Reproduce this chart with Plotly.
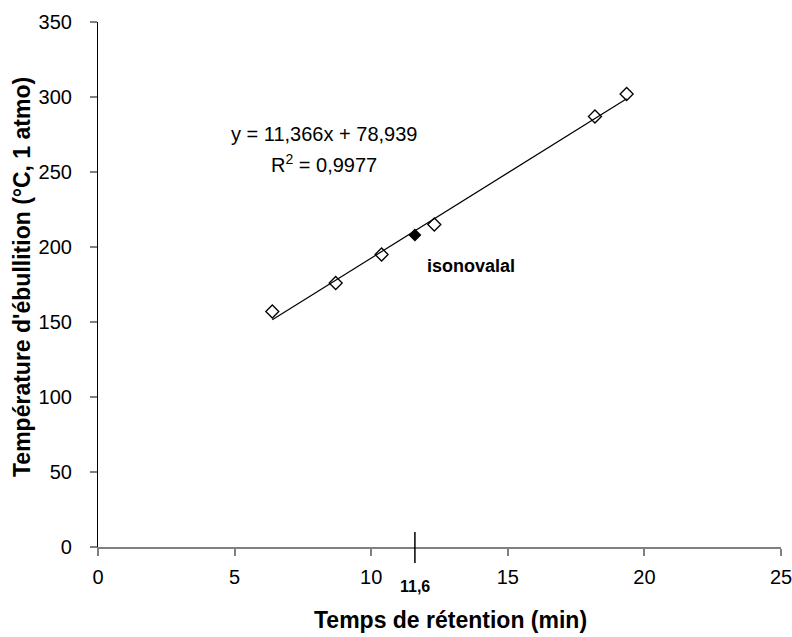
import plotly.graph_objects as go

# Data
ret_time = [6.38, 8.70, 10.38, 12.31, 18.19, 19.35]
boil_temp = [157, 176, 195, 215, 287, 302]
iso_time = [11.6]
iso_temp = [208]
slope = 11.366
intercept = 78.939
x_ticks = [0, 5, 10, 15, 20, 25]
y_ticks = [0, 50, 100, 150, 200, 250, 300, 350]

FONT = "Liberation Sans, Arial, sans-serif"

x_line = [min(ret_time), max(ret_time)]
y_line = [slope * v + intercept for v in x_line]

fig = go.Figure()
fig.add_trace(go.Scatter(x=x_line, y=y_line, mode="lines",
                         line=dict(color="black", width=1.2), showlegend=False, hoverinfo="skip"))
fig.add_trace(go.Scatter(x=ret_time, y=boil_temp, mode="markers",
                         marker=dict(symbol="diamond-open", size=10, color="black",
                                     line=dict(width=1.3, color="black")),
                         showlegend=False))
fig.add_trace(go.Scatter(x=iso_time, y=iso_temp, mode="markers",
                         marker=dict(symbol="diamond", size=10, color="black"),
                         showlegend=False))

# marker line at 11,6 crossing the x axis
fig.add_shape(type="line", xref="x", yref="paper", x0=11.6, x1=11.6, y0=-0.0305, y1=0.0286,
              line=dict(color="black", width=1.5))

fig.add_annotation(x=11.6, y=-0.076, xref="x", yref="paper", text="<b>11,6</b>",
                   xanchor="center", yanchor="middle",
                   showarrow=False, font=dict(family=FONT, size=16, color="black"))
fig.add_annotation(x=8.27, y=275.5, xref="x", yref="y", text="y = 11,366x + 78,939",
                   xanchor="center", yanchor="middle",
                   showarrow=False, font=dict(family=FONT, size=20, color="black"))
fig.add_annotation(x=8.27, y=256, xref="x", yref="y", text="R<sup>2</sup> = 0,9977",
                   xanchor="center", yanchor="middle",
                   showarrow=False, font=dict(family=FONT, size=20, color="black"))
fig.add_annotation(x=13.65, y=187.5, xref="x", yref="y", text="<b>isonovalal</b>",
                   xanchor="center", yanchor="middle",
                   showarrow=False, font=dict(family=FONT, size=18, color="black"))

# axis titles
fig.add_annotation(x=(450 - 98) / 683, y=(547 - 620) / 525, xref="paper", yref="paper",
                   xanchor="center", yanchor="middle",
                   text="<b>Temps de rétention (min)</b>", showarrow=False,
                   font=dict(family=FONT, size=23, color="black"))
fig.add_annotation(x=(22 - 98) / 683, y=(547 - 277) / 525, xref="paper", yref="paper",
                   xanchor="center", yanchor="middle",
                   text="<b>Température d'ébullition (°C, 1 atmo)</b>", showarrow=False,
                   textangle=-90, font=dict(family=FONT, size=23, color="black"))

# plot area at x 98-781, y 22-547
fig.update_layout(
    width=792, height=637,
    margin=dict(l=98, r=11, t=22, b=90),
    plot_bgcolor="white", paper_bgcolor="white",
    font=dict(family=FONT, size=20, color="black"),
    xaxis=dict(range=[0, 25], tickvals=x_ticks, ticks="outside", ticklen=7, tickwidth=1.5,
               tickcolor="#808080", showline=True, linecolor="#808080", linewidth=1.5,
               showgrid=False, zeroline=False, automargin=False, ticklabelstandoff=4,
               ticklabeloverflow="allow",
               tickfont=dict(family=FONT, size=20)),
    yaxis=dict(range=[0, 350], tickvals=y_ticks, ticks="outside", ticklen=7, tickwidth=1.5,
               tickcolor="#808080", showline=True, linecolor="black", linewidth=1.2,
               showgrid=False, zeroline=False, automargin=False, ticklabelstandoff=14,
               ticklabeloverflow="allow",
               tickfont=dict(family=FONT, size=20)),
)

# remove the default page margin so the 792x637 figure fills the window exactly
fig.write_html("out.html",
               config={"displayModeBar": False},
               post_script="document.body.style.margin='0';document.body.style.overflow='hidden';")
